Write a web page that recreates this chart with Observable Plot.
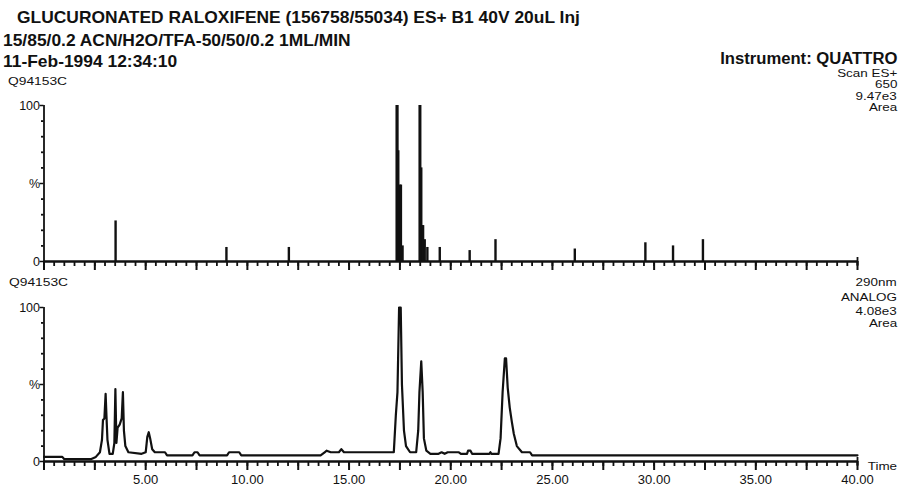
<!DOCTYPE html>
<html>
<head>
<meta charset="utf-8">
<script src="https://cdn.jsdelivr.net/npm/d3@7"></script>
<script src="https://cdn.jsdelivr.net/npm/@observablehq/plot@0.6"></script>
<style>
  html, body { margin: 0; padding: 0; background: #fff; }
  #page { position: relative; width: 898px; height: 487px; overflow: hidden; background: #fff; font-family: "Liberation Sans", Arial, sans-serif; color: #111; }
  .t { position: absolute; white-space: nowrap; }
  .hb { font-size: 16.5px; line-height: 16.5px; font-weight: bold; transform: scaleX(1.055); transform-origin: left top; }
  .hr { font-size: 16px; line-height: 16px; font-weight: bold; transform: scaleX(1.04); transform-origin: right top; }
  .sl { font-size: 11.5px; line-height: 11.5px; transform: scaleX(1.2); transform-origin: left top; }
  .sr { font-size: 11px; line-height: 11px; transform: scaleX(1.22); transform-origin: right top; text-align: right; }
  .plot { position: absolute; left: 0; }
</style>
</head>
<body>
<div id="page">
  <div id="top" class="plot" style="top:95px;"></div>
  <div id="bot" class="plot" style="top:295px;"></div>

  <div class="t hb" style="left:17px; top:9px;">GLUCURONATED RALOXIFENE (156758/55034) ES+ B1 40V 20uL Inj</div>
  <div class="t hb" style="left:3px; top:32px;">15/85/0.2 ACN/H2O/TFA-50/50/0.2 1ML/MIN</div>
  <div class="t hb" style="left:3px; top:53px;">11-Feb-1994 12:34:10</div>
  <div class="t sl" style="left:8px; top:76px;">Q94153C</div>
  <div class="t hr" style="right:1px; top:50.5px;">Instrument: QUATTRO</div>
  <div class="t sr" style="right:1px; top:67.5px;">Scan ES+</div>
  <div class="t sr" style="right:1px; top:79px;">650</div>
  <div class="t sr" style="right:1px; top:90.6px;">9.47e3</div>
  <div class="t sr" style="right:1px; top:102.1px;">Area</div>

  <div class="t sl" style="left:9px; top:277px;">Q94153C</div>
  <div class="t sr" style="right:1px; top:277px;">290nm</div>
  <div class="t sr" style="right:1px; top:292px;">ANALOG</div>
  <div class="t sr" style="right:1px; top:305.6px;">4.08e3</div>
  <div class="t sr" style="right:1px; top:317.6px;">Area</div>
  <div class="t sr" style="right:1px; top:460.5px;">Time</div>
</div>
<script>
// ---- Data ----
// Upper trace: Scan ES+ 650 (spikes): retention time (min) and relative intensity (%)
const topTimes = [3.52, 8.97, 12.04, 17.34, 17.38, 17.42, 17.50, 17.55, 17.63, 18.47,
                  18.50, 18.55, 18.60, 18.64, 18.72, 18.85, 19.46, 20.93, 22.2, 26.1,
                  29.57, 30.93, 32.4];
const topPct   = [26, 9, 9, 100, 100, 71, 49, 49, 10, 100,
                  100, 60, 23, 23, 14, 9, 9, 7, 14, 8,
                  12, 10, 14];

// Lower trace: 290nm ANALOG: retention time (min) and relative absorbance (%)
const botTimes = [0.0, 0.9, 1.0, 2.3, 2.55, 2.75, 2.85, 2.9, 2.97, 3.03,
                  3.07, 3.12, 3.22, 3.38, 3.46, 3.51, 3.56, 3.62, 3.72, 3.82,
                  3.88, 3.93, 4.0, 4.15, 4.8, 5.0, 5.08, 5.15, 5.22, 5.32,
                  5.45, 5.95, 6.05, 7.3, 7.4, 7.55, 7.65, 9.0, 9.1, 9.6,
                  9.7, 13.6, 13.8, 13.9, 14.1, 14.5, 14.62, 14.75, 17.2, 17.3,
                  17.38, 17.46, 17.54, 17.6, 17.7, 17.8, 18.0, 18.3, 18.4, 18.46,
                  18.55, 18.62, 18.68, 18.8, 19.0, 19.4, 19.55, 19.7, 19.85, 20.4,
                  20.5, 20.8, 20.85, 20.97, 21.05, 21.9, 21.95, 22.0, 22.35, 22.45,
                  22.55, 22.66, 22.72, 22.8, 22.9, 23.0, 23.1, 23.25, 23.5, 23.9,
                  24.0, 40.0];
const botPct   = [3, 3, 1.5, 1.5, 3, 6, 14, 27, 28, 44,
                  30, 14, 5, 5, 12, 47, 12, 22, 24, 28,
                  45, 20, 10, 6, 5, 6, 16, 19, 15, 8,
                  6, 6, 4, 4, 6, 6, 4, 4, 6, 6,
                  4, 4, 6, 7, 6, 6, 8, 6, 6, 30,
                  45, 100, 100, 50, 20, 10, 6, 6, 20, 45,
                  65, 45, 15, 7, 5, 5, 6, 5, 6, 6,
                  5, 5, 7, 7, 5, 5, 6, 5, 5, 15,
                  45, 67, 67, 48, 35, 26, 18, 10, 6, 6,
                  4, 4];

// Axis tick values
const minorX = d3.range(0, 40.01, 0.5);
const majorX = d3.range(0, 40.01, 2.5);
const labelX = [5, 10, 15, 20, 25, 30, 35, 40];
const majorY = [0, 50, 100];
const minorY = [10, 20, 30, 40, 60, 70, 80, 90];

const topData = topTimes.map((t, i) => ({t, v: topPct[i]}));
const botData = botTimes.map((t, i) => ({t, v: botPct[i]}));

const ink = "#111";
const fmtY = d => d === 50 ? "%" : String(d);

const W = 898, ML = 43.5, MR = 41;
const xu = p => p * 40 / (W - ML - MR);   // pixels -> minutes

// A panel: 0..100 % spans pxSpan pixels; below the zero line there are belowPx pixels of room
function panel(el, pxSpan, belowPx, marginTop, dataMarks, withLabels) {
  const k = 100 / pxSpan;                       // y units per pixel
  const yMin = -belowPx * k;
  const marks = [
    Plot.ruleX(minorX, {x: d => d, y1: () => 0, y2: () => -5 * k, stroke: ink, strokeWidth: 1.8}),
    Plot.ruleX(majorX, {x: d => d, y1: () => 0, y2: () => -9 * k, stroke: ink, strokeWidth: 2}),
    Plot.ruleY(minorY, {y: d => d, x1: () => 0, x2: () => -xu(2.5), stroke: ink, strokeWidth: 1.8}),
    Plot.ruleY(majorY, {y: d => d, x1: () => 0, x2: () => -xu(4), stroke: ink, strokeWidth: 1.5}),
    Plot.text(majorY, {x: 0, y: d => d, text: fmtY, textAnchor: "end", dx: -4, fontSize: 12.5, fill: ink}),
    Plot.ruleX([0], {y1: 0, y2: 100, strokeWidth: 1.8, stroke: ink}),
    Plot.ruleY([0], {x1: 0, x2: 40, strokeWidth: 2.6, stroke: ink}),
    Plot.ruleX([40], {x: d => d, y1: () => -4 * k, y2: () => 4 * k, stroke: ink, strokeWidth: 1.8}),
    ...dataMarks
  ];
  if (withLabels) {
    marks.push(Plot.text(labelX, {x: d => d, y: 0, text: d => d.toFixed(2), dy: 18, fontSize: 13, fill: ink}));
  }
  const chart = Plot.plot({
    width: W,
    height: marginTop + pxSpan + belowPx,
    marginLeft: ML,
    marginRight: MR,
    marginTop: marginTop,
    marginBottom: 0,
    x: {domain: [0, 40], axis: null},
    y: {domain: [yMin, 100], axis: null},
    style: {fontFamily: "'Liberation Sans', Arial, sans-serif", background: "transparent", color: ink, overflow: "visible"},
    marks
  });
  document.getElementById(el).appendChild(chart);
}

panel("top", 156, 10, 10, [
  Plot.ruleX(topData, {x: "t", y1: 0, y2: "v", strokeWidth: 2.4, stroke: ink})
], false);

panel("bot", 154, 26, 12, [
  Plot.line(botData, {x: "t", y: "v", strokeWidth: 2.2, stroke: ink, strokeLinejoin: "round"})
], true);
</script>
</body>
</html>
